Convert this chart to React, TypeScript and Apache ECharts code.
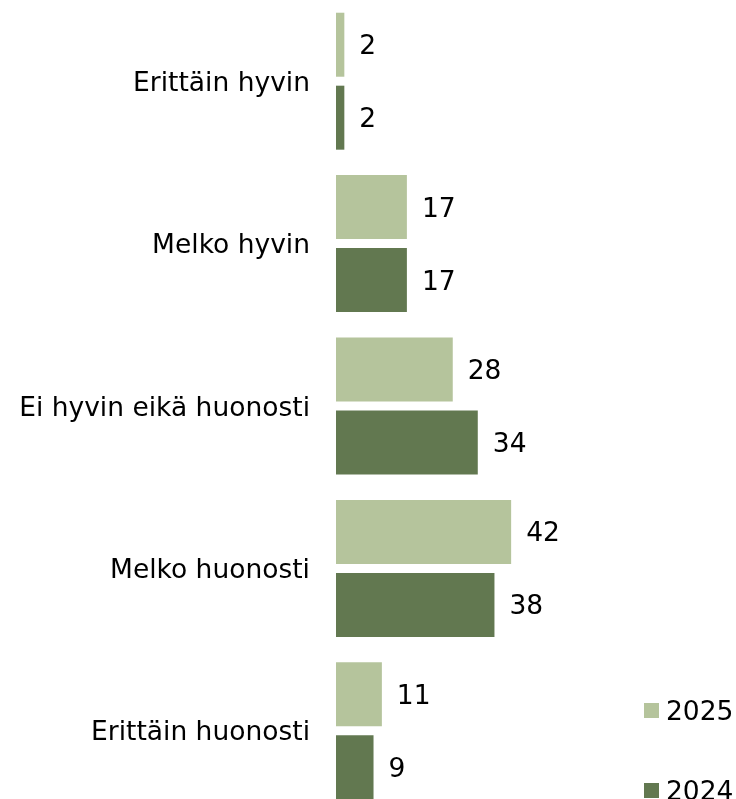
import React, { useEffect, useRef } from "react";
import * as echarts from "echarts";

const categories = [
  "Erittäin hyvin",
  "Melko hyvin",
  "Ei hyvin eikä huonosti",
  "Melko huonosti",
  "Erittäin huonosti",
];
const values2025 = [2, 17, 28, 42, 11];
const values2024 = [2, 17, 34, 38, 9];
const seriesNames = ["2025", "2024"];

const FONT = "'DejaVu Sans', Verdana, sans-serif";

export default function App() {
  const ref = useRef<HTMLDivElement>(null);
  useEffect(() => {
    if (!ref.current) return;
    const chart = echarts.init(ref.current, null, { renderer: "svg" });
    const label = {
      show: true,
      position: "right" as const,
      distance: 15,
      color: "#000",
      fontSize: 26.5,
      fontFamily: FONT,
    };
    chart.setOption({
      animation: false,
      legend: {
        orient: "vertical",
        left: 644,
        top: 697,
        padding: 0,
        itemWidth: 15,
        itemHeight: 15,
        itemGap: 53,
        icon: "rect",
        textStyle: { fontSize: 26.5, fontFamily: FONT, color: "#000", padding: [0, 0, 0, 2] },
        data: seriesNames,
      },
      grid: { left: 336, top: 0, width: 208.5, height: 812 },
      xAxis: {
        type: "value",
        min: 0,
        max: 50,
        show: false,
        splitLine: { show: false },
      },
      yAxis: {
        type: "category",
        inverse: true,
        data: categories,
        axisLine: { show: false },
        axisTick: { show: false },
        axisLabel: {
          margin: 26,
          color: "#000",
          fontSize: 26.5,
          fontFamily: FONT,
        },
      },
      series: [
        {
          name: seriesNames[0],
          type: "bar",
          data: values2025,
          barWidth: 64,
          barGap: "14%",
          itemStyle: { color: "#b5c49c" },
          label,
        },
        {
          name: seriesNames[1],
          type: "bar",
          data: values2024,
          barWidth: 64,
          barGap: "14%",
          itemStyle: { color: "#627850" },
          label,
        },
      ],
    });
    return () => chart.dispose();
  }, []);
  return (
    <div
      ref={ref}
      style={{ position: "fixed", left: 0, top: 0, width: 736, height: 812 }}
    />
  );
}
